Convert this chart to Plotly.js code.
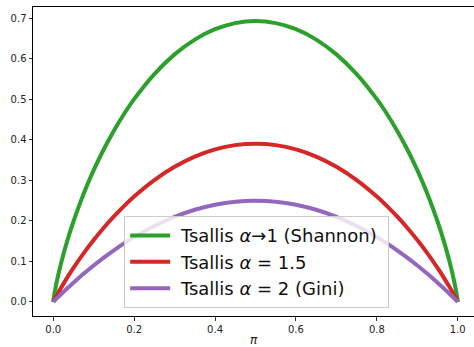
<!DOCTYPE html>
<html>
<head>
<meta charset="utf-8">
<script src="https://cdn.plot.ly/plotly-3.0.1.min.js"></script>
<style>
html,body{margin:0;padding:0;overflow:hidden;background:#fff;width:474px;height:347px;}
#chart{width:474px;height:347px;}
</style>
</head>
<body>
<div id="chart"></div>
<script>
// probability pi
const piValues = [0, 0.002, 0.005, 0.01, 0.02, 0.03, 0.04, 0.05, 0.075, 0.1, 0.125, 0.15, 0.175, 0.2, 0.25, 0.3, 0.35, 0.4, 0.45, 0.5,
  0.55, 0.6, 0.65, 0.7, 0.75, 0.8, 0.825, 0.85, 0.875, 0.9, 0.925, 0.95, 0.96, 0.97, 0.98, 0.99, 0.995, 0.998, 1];
// Tsallis alpha -> 1 (Shannon)
const shannon = [0, 0.0144, 0.0315, 0.0560, 0.0980, 0.1347, 0.1679, 0.1985, 0.2664, 0.3251, 0.3768, 0.4227, 0.4637, 0.5004, 0.5623, 0.6109, 0.6474, 0.6730, 0.6881, 0.6931,
  0.6881, 0.6730, 0.6474, 0.6109, 0.5623, 0.5004, 0.4637, 0.4227, 0.3768, 0.3251, 0.2664, 0.1985, 0.1679, 0.1347, 0.0980, 0.0560, 0.0315, 0.0144, 0];
// Tsallis alpha = 1.5
const tsallis15 = [0, 0.0039, 0.0095, 0.0186, 0.0360, 0.0526, 0.0685, 0.0838, 0.1198, 0.1527, 0.1831, 0.2110, 0.2366, 0.2600, 0.3006, 0.3334, 0.3585, 0.3763, 0.3870, 0.3905,
  0.3870, 0.3763, 0.3585, 0.3334, 0.3006, 0.2600, 0.2366, 0.2110, 0.1831, 0.1527, 0.1198, 0.0838, 0.0685, 0.0526, 0.0360, 0.0186, 0.0095, 0.0039, 0];
// Tsallis alpha = 2 (Gini)
const gini = [0, 0.0020, 0.0050, 0.0099, 0.0196, 0.0291, 0.0384, 0.0475, 0.0694, 0.0900, 0.1094, 0.1275, 0.1444, 0.1600, 0.1875, 0.2100, 0.2275, 0.2400, 0.2475, 0.2500,
  0.2475, 0.2400, 0.2275, 0.2100, 0.1875, 0.1600, 0.1444, 0.1275, 0.1094, 0.0900, 0.0694, 0.0475, 0.0384, 0.0291, 0.0196, 0.0099, 0.0050, 0.0020, 0];
const seriesNames = ['\u00a0Tsallis <i>α</i>→1 (Shannon)\u00a0', '\u00a0Tsallis <i>α</i> = 1.5', '\u00a0Tsallis <i>α</i> = 2 (Gini)'];
const seriesColors = ['#2ca02c', '#d62728', '#9467bd'];
const seriesValues = [shannon, tsallis15, gini];
const xTickVals = [0, 0.2, 0.4, 0.6, 0.8, 1.0];
const yTickVals = [0, 0.1, 0.2, 0.3, 0.4, 0.5, 0.6, 0.7];

const traces = seriesValues.map((ys, i) => ({
  x: piValues, y: ys, type: 'scatter', mode: 'lines',
  name: seriesNames[i],
  line: {color: seriesColors[i], width: 4, shape: 'spline', smoothing: 0.8}
}));

const axisCommon = {
  showgrid: false, zeroline: false, showline: true,
  linecolor: '#000', linewidth: 1, ticks: 'outside', ticklen: 3.5, tickwidth: 0.8,
  tickcolor: '#000', tickfont: {family: 'DejaVu Sans', size: 10, color: '#222'},
  tickformat: '.1f'
};

const layout = {
  width: 474, height: 347,
  margin: {l: 33, r: 0, t: 7, b: 31},
  paper_bgcolor: '#fff', plot_bgcolor: '#fff',
  font: {family: 'DejaVu Sans', color: '#222'},
  xaxis: Object.assign({}, axisCommon, {
    mirror: true,
    range: [-0.05, 1.0401], tickvals: xTickVals,
    title: {text: '<i>π</i>', font: {family: 'DejaVu Sans', size: 12, color: '#222'}, standoff: 2}
  }),
  yaxis: Object.assign({}, axisCommon, {
    mirror: false,
    range: [-0.03466, 0.72780], tickvals: yTickVals
  }),
  showlegend: true,
  legend: {
    x: 0.2068, y: 0.323, xanchor: 'left', yanchor: 'top',
    bgcolor: 'rgba(255,255,255,0.8)', bordercolor: '#cccccc', borderwidth: 1,
    font: {family: 'DejaVu Sans', size: 18, color: '#111'},
    itemwidth: 40, tracegroupgap: 0
  }
};

Plotly.newPlot('chart', traces, layout, {staticPlot: true, displayModeBar: false});
</script>
</body>
</html>
